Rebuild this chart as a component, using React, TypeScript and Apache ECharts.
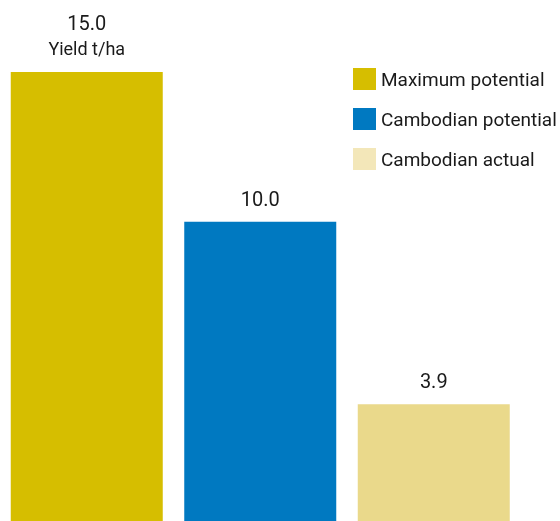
import React, { useEffect, useRef } from "react";
import * as echarts from "echarts";

const categories = ["Maximum potential", "Cambodian potential", "Cambodian actual"];
const values = [15.0, 10.0, 3.9];
const barColors = ["#D6BE00", "#0079C1", "#EAD98B"];
const legendColors = ["#D6BE00", "#0079C1", "#F3E7B9"];
const unitLabel = "Yield t/ha";

export default function App() {
  const ref = useRef<HTMLDivElement>(null);
  useEffect(() => {
    if (!ref.current) return;
    const chart = echarts.init(ref.current, undefined, { renderer: "svg" });
    const font = "Roboto, 'Noto Sans', sans-serif";
    const series = categories.map((name, i) => ({
      name,
      type: "bar",
      barWidth: 152,
      barGap: "-100%",
      itemStyle: { color: barColors[i] },
      data: values.map((v, j) => (j === i ? v : "-")),
      label: {
        show: true,
        position: "top",
        distance: 13,
        color: "#1a1a1a",
        fontFamily: font,
        fontSize: 20,
        formatter:
          i === 0
            ? (p: any) => `{a|${Number(p.value).toFixed(1)}}\n{b|${unitLabel}}`
            : (p: any) => Number(p.value).toFixed(1),
        rich:
          i === 0
            ? {
                a: { fontSize: 20, lineHeight: 28, color: "#1a1a1a", fontFamily: font },
                b: { fontSize: 18, lineHeight: 22, color: "#1a1a1a", fontFamily: font },
              }
            : undefined,
      },
    }));
    chart.setOption({
      animation: false,
      grid: { left: 0, right: 39.5, top: 72, bottom: 0 },
      xAxis: {
        type: "category",
        data: categories,
        show: false,
      },
      yAxis: { type: "value", min: 0, max: 15, show: false },
      legend: {
        orient: "vertical",
        left: 353,
        top: 68,
        padding: 0,
        itemWidth: 23,
        itemHeight: 22,
        itemGap: 18,
        icon: "rect",
        textStyle: { fontFamily: font, fontSize: 19, color: "#1a1a1a" },
        data: categories.map((name, i) => ({ name, itemStyle: { color: legendColors[i] } })),
      },
      series,
    });
    return () => chart.dispose();
  }, []);
  return (
    <div
      ref={ref}
      style={{ position: "fixed", left: 0, top: 0, width: 560, height: 521 }}
    />
  );
}
